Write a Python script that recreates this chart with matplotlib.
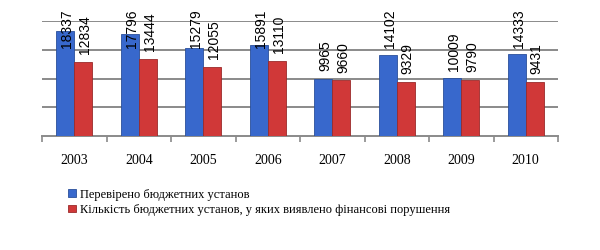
import matplotlib.pyplot as plt
import numpy as np

years = ['2003', '2004', '2005', '2006', '2007', '2008', '2009', '2010']
checked = [18337, 17796, 15279, 15891, 9965, 14102, 10009, 14333]
violations = [12834, 13444, 12055, 13110, 9660, 9329, 9790, 9431]
names = ['Перевірено бюджетних установ',
         'Кількість бюджетних установ, у яких виявлено фінансові порушення']

plt.rcParams['font.family'] = ['Liberation Serif', 'DejaVu Serif']

fig = plt.figure(figsize=(6, 2.5), dpi=100)
ax = fig.add_axes([0.07, 0.456, 0.86, 0.46])

x = np.arange(len(years))
w = 0.28
b1 = ax.bar(x - w / 2, checked, w, color='#3868cc', edgecolor='#2a4f9a', lw=0.6, zorder=3)
b2 = ax.bar(x + w / 2, violations, w, color='#d03838', edgecolor='#9a2a2a', lw=0.6, zorder=3)

# value labels, kept below the top of the chart like Excel does
for bars, vals in [(b1, checked), (b2, violations)]:
    for r, v in zip(bars, vals):
        yb = min(v + 1380, 15350)
        ax.text(r.get_x() + r.get_width() / 2 + 0.03, yb, str(v), rotation=90,
                ha='center', va='bottom', fontsize=10, family='Liberation Sans',
                clip_on=False, zorder=4)

ax.set_xlim(-0.5, len(years) - 0.5)
ax.set_ylim(0, 20000)
ax.set_yticks([5000, 10000, 15000, 20000])
ax.set_yticklabels([])
ax.tick_params(axis='y', length=0)
ax.grid(axis='y', color='#8a8a8a', lw=1.4, zorder=0)

ax.set_xticks(x)
ax.set_xticklabels(years, fontsize=10)
ax.set_xticks(np.arange(-0.5, len(years)), minor=True)
ax.tick_params(axis='x', which='major', length=0, pad=13)
ax.tick_params(axis='x', which='minor', length=4, color='#8a8a8a', width=1.2)

for s in ['top', 'right', 'left']:
    ax.spines[s].set_visible(False)
ax.spines['bottom'].set_color('#8a8a8a')
ax.spines['bottom'].set_linewidth(1.4)

fig.legend([b1, b2], names, loc='upper left', bbox_to_anchor=(0.105, 0.265),
           frameon=False, fontsize=9, handlelength=0.6, handleheight=0.6,
           handletextpad=0.4, labelspacing=0.25, borderaxespad=0)

fig.savefig('out.png', dpi=100)
